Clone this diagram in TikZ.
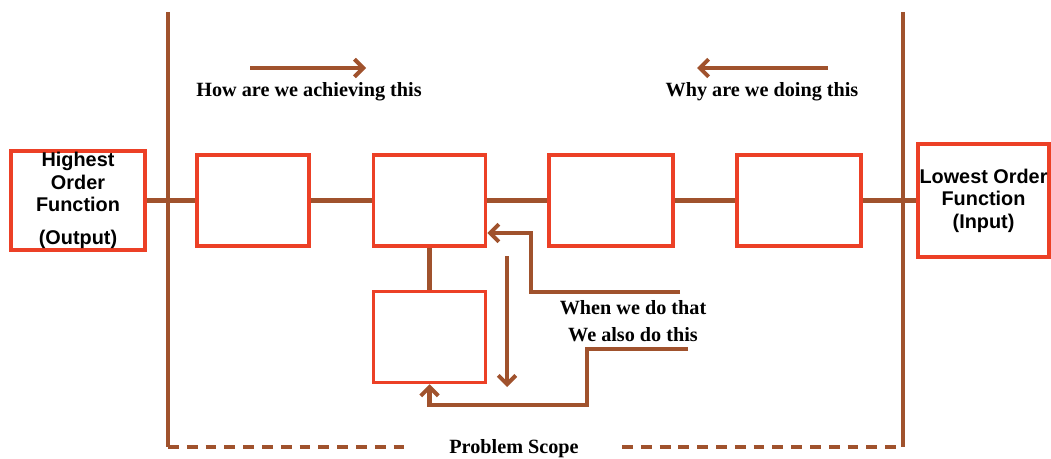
\documentclass[tikz,border=0pt]{standalone}
\usepackage{fontspec}
\setmainfont{Liberation Serif}
\setsansfont{Liberation Sans}
\usetikzlibrary{positioning, arrows.meta}

\definecolor{linebrown}{RGB}{160,82,45}
\definecolor{boxred}{RGB}{236,64,38}

\begin{document}
\begin{tikzpicture}[x=0.02cm, y=-0.02cm, >={Straight Barb[length=5pt, width=10pt]},
    wire/.style={draw=linebrown, line width=2.3pt},
    fbox/.style={draw=boxred, line width=2pt, minimum width=2.24cm, minimum height=1.82cm, inner sep=0pt},
    endbox/.style={draw=boxred, line width=2pt, inner sep=0pt, align=center, font=\sffamily\bfseries\fontsize{11.3}{12.8}\selectfont},
    caption/.style={font=\bfseries\fontsize{11.5}{13}\selectfont, inner sep=0pt}]
    \useasboundingbox (0,0) rectangle (1051,459);
    % Scope borders
    \coordinate (lt) at (168,12);
    \coordinate (lb) at (168,447);
    \coordinate (rt) at (903,12);
    \coordinate (rb) at (903,447);
    \draw[wire] (lt) -- (lb);
    \draw[wire] (rt) -- (rb);
    \node[caption] (scope) at (514,449) {Problem Scope};
    \coordinate (sl) at (408,447);
    \coordinate (sr) at (622,447);
    \draw[wire, dash pattern=on 6.2pt off 4.5pt] (lb) -- (sl);
    \draw[wire, dash pattern=on 6.2pt off 4.5pt] (sr) -- (rb);
    % Direction hints
    \node[caption] (how) at (309,92) {How are we achieving this};
    \node[caption] (why) at (762,92) {Why are we doing this};
    \coordinate (ha) at (250,68);
    \coordinate (hb) at (366,68);
    \coordinate (wa) at (828,68);
    \coordinate (wb) at (697,68);
    \draw[wire, ->] (ha) -- (hb);
    \draw[wire, ->] (wa) -- (wb);
    % Function boxes
    \node[endbox, minimum width=2.68cm, minimum height=1.98cm] (high) at (78,200.5) {Highest\\Order\\Function\\[6pt](Output)};
    \node[endbox, minimum width=2.62cm, minimum height=2.26cm] (low) at (983.5,200.5) {Lowest Order\\Function\\(Input)};
    \node[fbox] (f1) at (253,200.5) {};
    \node[fbox] (f2) at (429.5,200.5) {};
    \node[fbox, minimum width=2.48cm] (f3) at (611,200.5) {};
    \node[fbox, minimum width=2.48cm] (f4) at (799,200.5) {};
    \node[fbox] (f5) at (429.5,337) {};
    % Main chain
    \draw[wire] (high) -- (f1) (f1) -- (f2) (f2) -- (f3) (f3) -- (f4) (f4) -- (low.west |- f4);
    \draw[wire] (f2) -- (f5);
    % Side effects
    \node[caption] (when) at (633,308) {When we do that};
    \node[caption] (also) at (633,335) {We also do this};
    \coordinate (w1) at (680,292);
    \coordinate (w2) at (531,233);
    \draw[wire, ->] (w1) -| (w2) -- (f2.east |- w2);
    \coordinate (d1) at (507,256);
    \coordinate (d2) at (507,387);
    \draw[wire, ->] (d1) -- (d2);
    \coordinate (v1) at (688,349);
    \coordinate (v2) at (587,405);
    \draw[wire, ->] (v1) -| (v2) -| (f5.south);
\end{tikzpicture}
\end{document}
